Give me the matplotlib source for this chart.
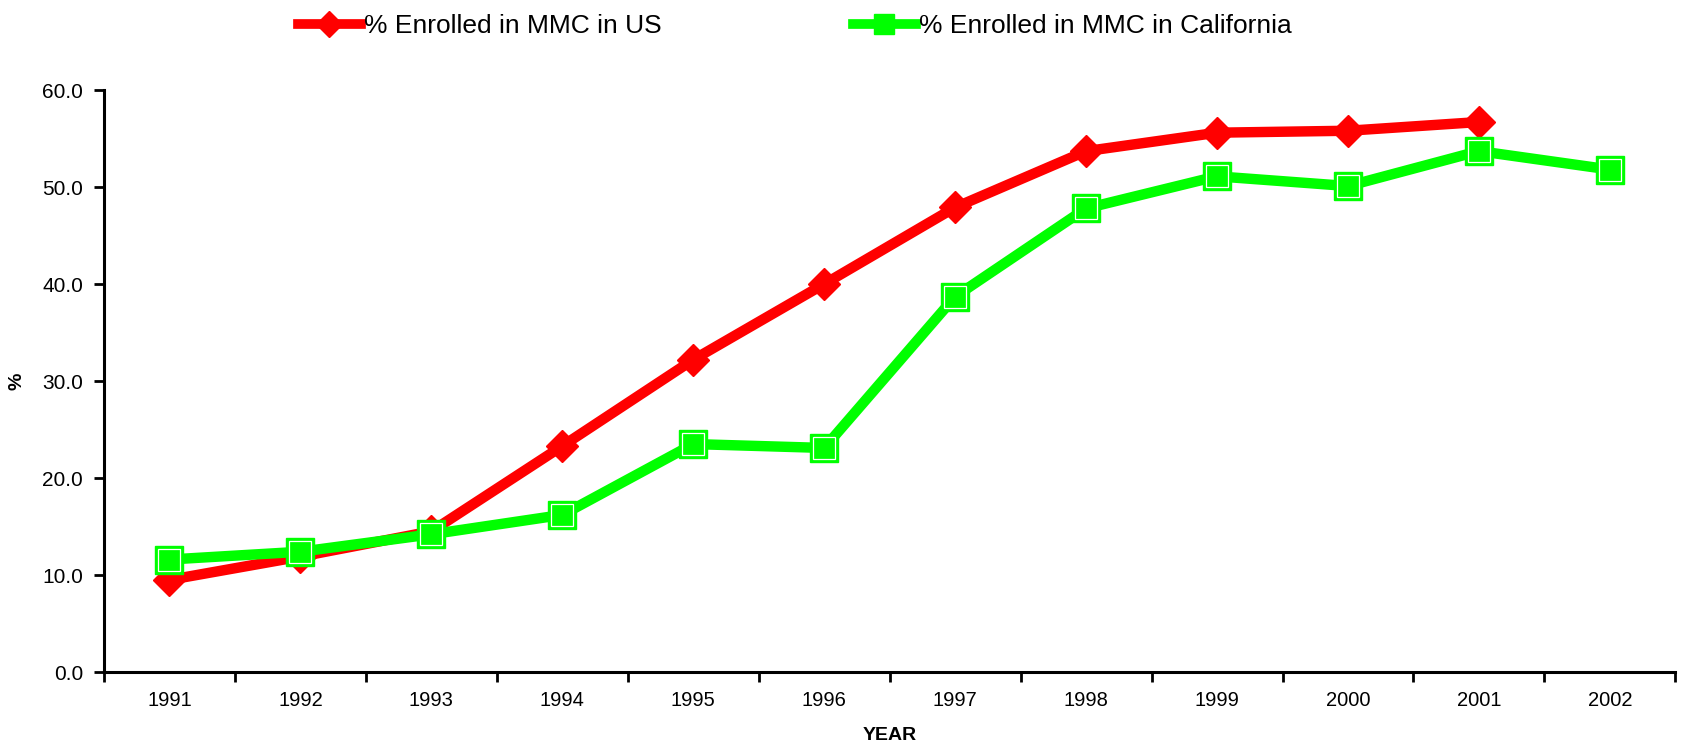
import numpy as np
import matplotlib.pyplot as plt
from matplotlib.lines import Line2D

plt.rcParams['font.family'] = ['Liberation Sans', 'DejaVu Sans']

years = ["1991", "1992", "1993", "1994", "1995", "1996",
         "1997", "1998", "1999", "2000", "2001", "2002"]
us_pct = [9.5, 11.9, 14.5, 23.3, 32.2, 40.0, 47.9, 53.7, 55.6, 55.8, 56.7]
ca_pct = [11.6, 12.4, 14.2, 16.2, 23.5, 23.1, 38.7, 47.8, 51.1, 50.1, 53.7, 51.8]

RED = "#ff0000"
GREEN = "#00ff00"

fig = plt.figure(figsize=(16.94, 7.42), dpi=100)
ax = fig.add_axes([0.0614, 0.0943, 0.9276, 0.7844])

x_us = np.arange(len(us_pct))
x_ca = np.arange(len(ca_pct))

ax.plot(x_us, us_pct, color=RED, lw=7.5, marker="D", ms=16,
        mfc=RED, mec=RED, zorder=3)
ax.plot(x_ca, ca_pct, color=GREEN, lw=7.5, marker="s", ms=20,
        mfc=GREEN, mec=GREEN, zorder=4)
# excel-style thin white inner border on the squares
ax.plot(x_ca, ca_pct, ls="none", marker="s", ms=16,
        mfc="none", mec="white", mew=0.9, zorder=5)

ax.set_xlim(-0.5, len(years) - 0.5)
ax.set_ylim(0, 60)
ax.set_yticks(np.arange(0, 61, 10))
ax.set_yticklabels([f"{v:.1f}" for v in np.arange(0, 61, 10)], fontsize=15)

# labels centred on categories, tick marks between them
ax.set_xticks(np.arange(len(years)))
ax.set_xticklabels(years, fontsize=14.5)
ax.set_xticks(np.arange(len(years) + 1) - 0.5, minor=True)
ax.tick_params(axis="x", which="major", length=0, pad=14)
ax.tick_params(axis="x", which="minor", length=7, width=2, direction="out")
ax.tick_params(axis="y", length=7, width=2, direction="out", pad=8)

for side in ["top", "right"]:
    ax.spines[side].set_visible(False)
for side in ["left", "bottom"]:
    ax.spines[side].set_linewidth(2.2)

ax.set_xlabel("YEAR", fontsize=14, fontweight="bold", labelpad=12)
ax.set_ylabel("%", fontsize=14, fontweight="bold", labelpad=12)

handles = [
    Line2D([], [], color=RED, lw=7, marker="D", ms=13, mfc=RED, mec=RED),
    Line2D([], [], color=GREEN, lw=7, marker="s", ms=14, mfc=GREEN, mec=GREEN),
]
fig.legend(handles, ["% Enrolled in MMC in US", "% Enrolled in MMC in California"],
           loc="center left", bbox_to_anchor=(0.1695, 0.965), ncol=2,
           frameon=False, fontsize=19, handlelength=2.4, handletextpad=0.1,
           columnspacing=7.25, borderaxespad=0)

fig.savefig("out.png", dpi=100)
